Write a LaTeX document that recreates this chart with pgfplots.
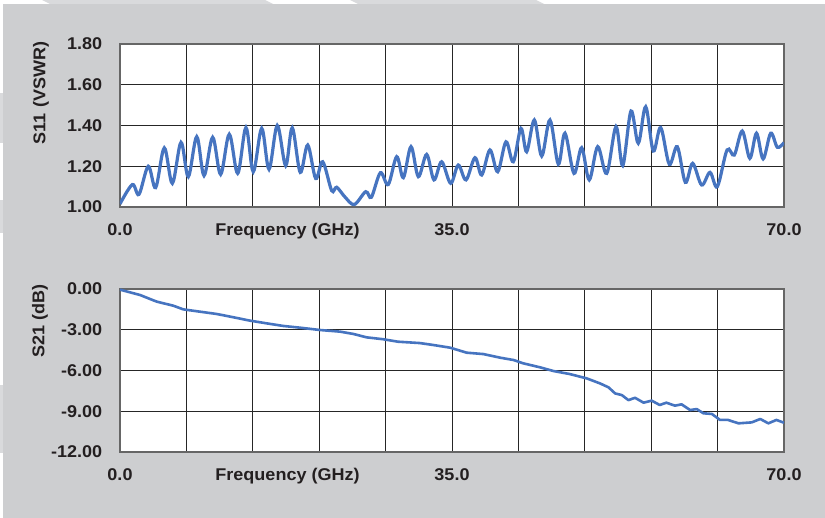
\documentclass[border=0pt]{standalone}
\usepackage{fontspec}
\setmainfont{Liberation Sans}[FakeStretch=1.06]
\usepackage{pgfplots}
\pgfplotsset{compat=1.18}

\definecolor{panel}{RGB}{205,206,208}
\definecolor{panelhi}{RGB}{217,218,220}
\definecolor{ink}{RGB}{35,31,32}
\definecolor{trace}{RGB}{70,116,192}
\newcommand{\lbl}{\fontsize{17}{20}\selectfont\bfseries}

\pgfplotsset{
  panelaxis/.style={
    scale only axis, width=664pt, height=163pt, anchor=south west,
    xmin=0, xmax=70, xtick={0,7,...,70},
    xticklabels={0.0,,,,,35.0,,,,,70.0},
    grid=major, major grid style={black!85, line width=1pt},
    axis line style={black!60, line width=1.3pt},
    major tick length=0pt,
    axis background/.style={fill=white},
    tick label style={font=\lbl, text=ink},
    xticklabel style={anchor=base, yshift=-29pt, inner sep=0pt},
    yticklabel style={anchor=east, xshift=-17.7pt, inner sep=0pt},
    xlabel={Frequency (GHz)},
    xlabel style={at={(axis description cs:0.2523,0)}, anchor=base,
      yshift=-29pt, inner sep=0pt, font=\lbl, text=ink},
  }
}

\begin{document}
\begin{tikzpicture}
% background panel
\fill[white] (0,0) rectangle (825pt,518pt);
\fill[panel] (3pt,0) rectangle (825pt,514pt);
\fill[panelhi] (42pt,518pt) -- (265pt,518pt) -- (273pt,514pt) -- (50pt,514pt) -- cycle;
\fill[panelhi] (350pt,518pt) -- (536pt,518pt) -- (544pt,514pt) -- (358pt,514pt) -- cycle;
\fill[panelhi] (0,285pt) rectangle (3pt,318pt);
\fill[panelhi] (0,65pt) rectangle (3pt,133pt);
\fill[panelhi] (0,375pt) rectangle (3pt,425pt);

% S11
\begin{axis}[panelaxis, at={(120pt,311pt)},
    ymin=1, ymax=1.8, ytick={1,1.2,1.4,1.6,1.8},
    yticklabels={1.00,1.20,1.40,1.60,1.80}]
\addplot[trace, line width=3.2pt, smooth, tension=0.55] coordinates {
(0.0,1.015) (1.30,1.11) (2.0,1.062) (2.98,1.20) (3.76,1.095) (4.67,1.29)
(5.52,1.116) (6.43,1.317) (7.2,1.149) (8.09,1.345) (8.86,1.154) (9.77,1.342)
(10.61,1.16) (11.52,1.357) (12.41,1.165) (13.28,1.39) (14.05,1.173) (14.94,1.386)
(15.71,1.185) (16.58,1.40) (17.47,1.203) (18.16,1.389) (19.0,1.17) (19.79,1.304)
(20.63,1.14) (21.37,1.222) (22.32,1.08) (22.84,1.097) (23.7,1.05) (24.7,1.012)
(25.9,1.075) (26.5,1.048) (27.45,1.168) (28.28,1.11) (29.17,1.247) (29.87,1.144)
(30.68,1.296) (31.45,1.149) (32.33,1.258) (33.1,1.133) (33.91,1.222) (34.86,1.116)
(35.66,1.206) (36.48,1.133) (37.42,1.242) (38.13,1.157) (39.0,1.28) (39.82,1.173)
(40.69,1.32) (41.46,1.222) (42.27,1.386) (42.87,1.271) (43.68,1.427) (44.46,1.25)
(45.33,1.427) (46.21,1.21) (46.91,1.362) (47.86,1.165) (48.67,1.291) (49.47,1.133)
(50.36,1.296) (51.31,1.165) (52.29,1.394) (53.0,1.203) (53.87,1.471) (54.64,1.313)
(55.42,1.492) (56.22,1.275) (57.0,1.39) (57.91,1.21) (58.75,1.296) (59.6,1.121)
(60.37,1.214) (61.32,1.108) (62.2,1.17) (62.97,1.10) (64.0,1.28) (64.76,1.255)
(65.6,1.373) (66.4,1.239) (67.1,1.362) (67.8,1.236) (68.6,1.362) (69.3,1.293)
(70.0,1.316)
};
\end{axis}

% S21
\begin{axis}[panelaxis, at={(120pt,66pt)},
    ymin=-12, ymax=0, ytick={-12,-9,-6,-3,0},
    yticklabels={-12.00,-9.00,-6.00,-3.00,0.00}]
\addplot[trace, line width=2.6pt, line join=round] coordinates {
(0,-0.05) (2.1,-0.44) (3.87,-0.93) (5.62,-1.23) (6.67,-1.5) (8.43,-1.67)
(10.2,-1.84) (11.94,-2.08) (13.7,-2.33) (15.47,-2.53) (17.2,-2.72) (19.0,-2.85)
(21.1,-3.02) (23.2,-3.14) (24.6,-3.31) (26.0,-3.56) (27.76,-3.7) (29.3,-3.88)
(31.6,-3.98) (33.0,-4.12) (34.8,-4.32) (36.55,-4.69) (38.3,-4.79) (40.1,-5.06)
(41.5,-5.23) (42.5,-5.47) (44.3,-5.77) (45.7,-6.04) (47.4,-6.26) (49.2,-6.58)
(50.6,-6.95) (51.5,-7.24) (52.2,-7.69) (52.9,-7.81) (53.6,-8.18) (54.3,-8.01)
(55.2,-8.37) (56.05,-8.22) (56.9,-8.54) (57.6,-8.37) (58.5,-8.59) (59.2,-8.49)
(60.1,-8.91) (60.8,-8.84) (61.5,-9.15) (62.4,-9.2) (63.25,-9.64) (64.1,-9.64)
(65.2,-9.89) (66.6,-9.82) (67.5,-9.57) (68.35,-9.89) (69.2,-9.64) (69.9,-9.82)
(70,-9.85)
};
\end{axis}

% axis titles
\node[rotate=90, font=\lbl, text=ink, inner sep=0pt] at (41pt,425pt) {S11 (VSWR)};
\node[rotate=90, font=\lbl, text=ink, inner sep=0pt] at (40pt,197pt) {S21 (dB)};
\end{tikzpicture}
\end{document}
